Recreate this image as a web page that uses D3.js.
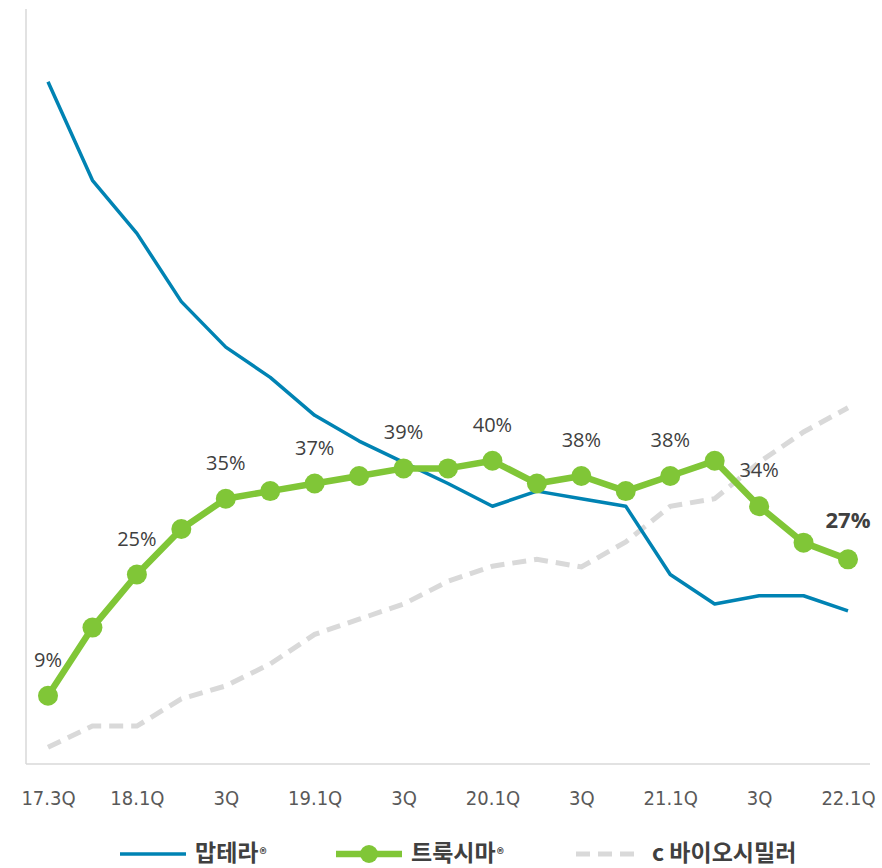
<!DOCTYPE html>
<html><head><meta charset="utf-8">
<script src="https://cdn.jsdelivr.net/npm/d3@7/dist/d3.min.js"></script>
<style>body{margin:0;background:#fff}svg{display:block}</style>
</head><body><svg id="c" width="882" height="868"></svg>
<script>
const categories = ["17.3Q","17.4Q","18.1Q","18.2Q","18.3Q","18.4Q","19.1Q","19.2Q","19.3Q","19.4Q","20.1Q","20.2Q","20.3Q","20.4Q","21.1Q","21.2Q","21.3Q","21.4Q","22.1Q"];
const tickLabels = ["17.3Q","","18.1Q","","3Q","","19.1Q","","3Q","","20.1Q","","3Q","","21.1Q","","3Q","","22.1Q"];
const mabthera = [90,77,70,61,55,51,46,42.6,39.8,37,34,36,35,34,25,21.1,22.2,22.2,20.2];
const truxima  = [9,18,25,31,35,36,37,38,39,39,40,37,38,36,38,40,34,29.2,27];
const truximaLabels = ["9%","","25%","","35%","","37%","","39%","","40%","","38%","","38%","","34%","","27%"];
const biosimilar = [2.2,5,5,8.6,10.3,13.2,17.1,19.1,21.1,24.1,26.1,27,26,29.3,34,35,39.8,43.8,47];
const seriesNames = ["맙테라", "트룩시마", "c 바이오시밀러"];

const svg = d3.select("#c");
const x = d3.scalePoint().domain(categories).range([48, 848]);
const y = d3.scaleLinear().domain([0, 100]).range([764, 6]);

// axes lines
svg.append("line").attr("x1",26).attr("x2",26).attr("y1",9).attr("y2",764)
  .attr("stroke","#d9d9d9").attr("stroke-width",1.5);
svg.append("line").attr("x1",26).attr("x2",870).attr("y1",764).attr("y2",764)
  .attr("stroke","#d9d9d9").attr("stroke-width",1.5);

// x tick labels
const xAxis = d3.axisBottom(x).tickSize(0).tickFormat((d,i)=>tickLabels[i]);
const gx = svg.append("g").attr("transform","translate(0,764)").call(xAxis);
gx.select(".domain").remove();
gx.selectAll("text").attr("dy",0).attr("y",41)
  .style("font-family","'Liberation Sans Narrow','DejaVu Sans Condensed',sans-serif")
  .style("font-size","20px").style("fill","#595959");

const line = d3.line().x((d,i)=>x(categories[i])).y(d=>y(d));

svg.append("path").datum(biosimilar).attr("d",line).attr("fill","none")
  .attr("stroke","#d9d9d9").attr("stroke-width",5).attr("stroke-dasharray","14,8");
svg.append("path").datum(mabthera).attr("d",line).attr("fill","none")
  .attr("stroke","#0083b3").attr("stroke-width",3.5).attr("stroke-linejoin","round");
svg.append("path").datum(truxima).attr("d",line).attr("fill","none")
  .attr("stroke","#80c637").attr("stroke-width",6.5).attr("stroke-linejoin","round");
svg.selectAll("circle.pt").data(truxima).enter().append("circle").attr("class","pt")
  .attr("cx",(d,i)=>x(categories[i])).attr("cy",d=>y(d)).attr("r",10).attr("fill","#80c637");

// data labels
const last = categories.length - 1;
const lblData = truxima.map((v,i)=>({v, i, cat:categories[i], label:truximaLabels[i]})).filter(d=>d.label!=="");
svg.selectAll("text.lbl").data(lblData).enter().append("text").attr("class","lbl")
  .attr("x",d=>x(d.cat))
  .attr("y",d=>y(d.v) - (d.i===last ? 31 : 29))
  .attr("text-anchor","middle")
  .style("font-family","'Open Sans',sans-serif")
  .style("font-size",d=>d.i===last?"22px":"20px")
  .style("font-weight",d=>d.i===last?"bold":"normal")
  .style("fill","#404040")
  .text(d=>d.label);

// legend
const ly = 854;
const legend = svg.append("g");
const items = [
  {x0:120, x1:186, tx:195, color:"#0083b3", w:3.5, dash:null, marker:false, name:seriesNames[0], reg:true},
  {x0:336, x1:402, tx:411, color:"#80c637", w:6.5, dash:null, marker:true, name:seriesNames[1], reg:true},
  {x0:576, x1:641, tx:652, color:"#d9d9d9", w:5, dash:"14,8", marker:false, name:seriesNames[2], reg:false}
];
items.forEach(it=>{
  legend.append("line").attr("x1",it.x0).attr("x2",it.x1).attr("y1",ly).attr("y2",ly)
    .attr("stroke",it.color).attr("stroke-width",it.w).attr("stroke-dasharray",it.dash);
  if(it.marker) legend.append("circle").attr("cx",(it.x0+it.x1)/2).attr("cy",ly).attr("r",9).attr("fill",it.color);
  const t = legend.append("text").attr("x",it.tx).attr("y",ly+7)
    .style("font-family","'Noto Sans CJK KR',sans-serif").style("font-size","23px")
    .style("font-weight","bold").style("fill","#404040").text(it.name);
  if(it.reg) t.append("tspan").style("font-size","14px").attr("dx",1).attr("dy",-2).text("®");
});
</script></body></html>
